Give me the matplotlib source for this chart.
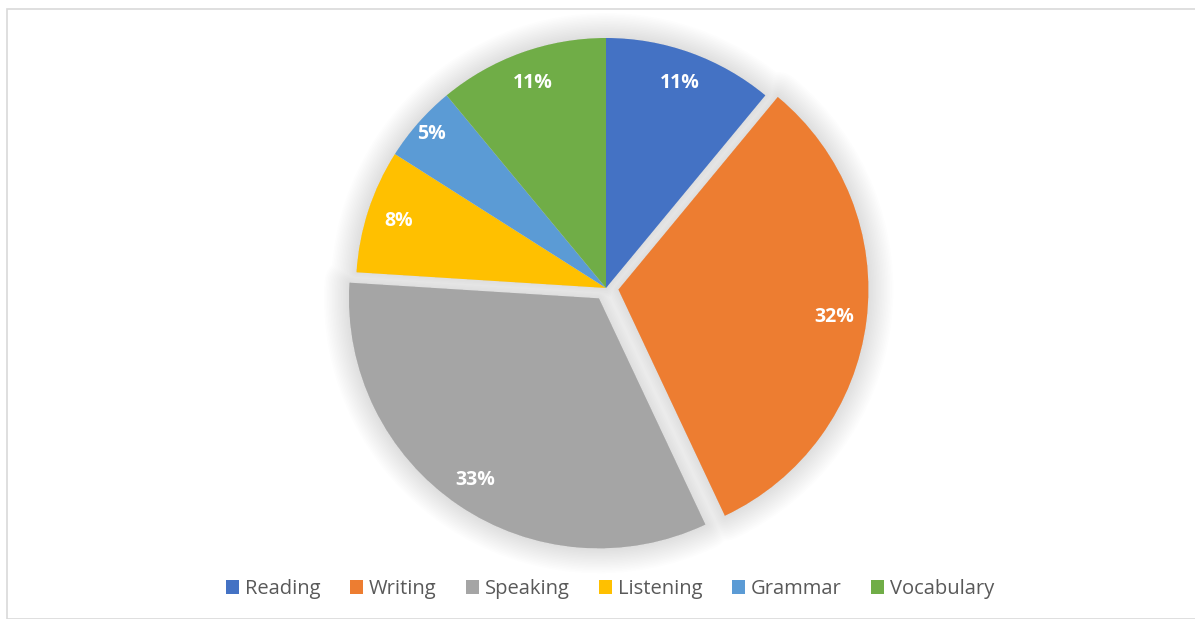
import matplotlib.pyplot as plt
import matplotlib.patheffects as pe
from matplotlib.patches import Rectangle, PathPatch
from matplotlib.path import Path

skills = ['Reading', 'Writing', 'Speaking', 'Listening', 'Grammar', 'Vocabulary']
shares = [11, 32, 33, 8, 5, 11]
colors = ['#4472C4', '#ED7D31', '#A5A5A5', '#FFC000', '#5B9BD5', '#70AD47']
pulled_out = [0, 0.05, 0.05, 0, 0, 0]

W, H = 1195, 619
fig = plt.figure(figsize=(W / 100, H / 100), dpi=100)
ax = fig.add_axes([0, 0, 1, 1])

# chart area border
fig.patches.append(Rectangle((7 / W, 0), 1.2, 1 - 9 / H, transform=fig.transFigure,
                             fill=False, edgecolor='#d9d9d9', linewidth=1.2))

center = (606, H - 288)
radius = 250
explode = [f * radius for f in pulled_out]  # pie offsets are in data units
pct_dist = 0.87

wedges, _, autotexts = ax.pie(shares, explode=explode, startangle=90, counterclock=False,
                              center=center, radius=radius, colors=colors,
                              autopct='%d%%', pctdistance=pct_dist,
                              wedgeprops=dict(linewidth=0), frame=True,
                              textprops=dict(color='white', fontsize=14,
                                             fontweight='bold', family='Open Sans'))
for w in wedges:
    w.set_zorder(2)
for t in autotexts:
    t.set_zorder(3)

# narrow slice: push its label a little further out toward the rim
label_dist = [0.87, 0.87, 0.88, 0.87, 0.93, 0.87]
for w, t, d in zip(wedges, autotexts, label_dist):
    cx, cy = w.center
    x, y = t.get_position()
    k = d / pct_dist
    t.set_position((cx + (x - cx) * k, cy + (y - cy) * k))

# soft outer shadow: one compound path of all wedges, stroked with layered
# translucent widths so overlapping slices don't darken each other
outline = Path.make_compound_path(
    *[w.get_patch_transform().transform_path(w.get_path()) for w in wedges])
n = 16
glow = [pe.Stroke(linewidth=36 * (1 - i / n), foreground='black', alpha=0.009,
                  joinstyle='round', capstyle='round')
        for i in range(n)]
shadow = PathPatch(outline, facecolor='#e0e0e0', linewidth=0, zorder=1)
shadow.set_path_effects(glow + [pe.Normal()])
ax.add_patch(shadow)

ax.set_xlim(0, W)
ax.set_ylim(0, H)
ax.set_aspect('equal')
ax.axis('off')

leg = fig.legend(wedges, skills, loc='center', bbox_to_anchor=(610 / W, 1 - 589 / H),
                 ncol=6, frameon=False, handlelength=0.65, handleheight=0.65,
                 handletextpad=0.3, columnspacing=1.45,
                 prop=dict(family='Open Sans', size=14.5))
for t in leg.get_texts():
    t.set_color('#595959')

fig.savefig('out.png', dpi=100)
